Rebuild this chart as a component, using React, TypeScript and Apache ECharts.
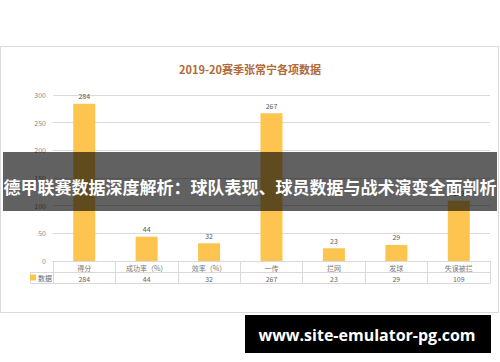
import React, { useEffect, useRef } from "react";
import * as echarts from "echarts";

const categories = ["得分", "成功率（%）", "效率（%）", "一传", "拦网", "发球", "失误被拦"];
const values = [284, 44, 32, 267, 23, 29, 109];
const seriesName = "数据";
const chartTitle = "2019-20赛季张常宁各项数据";
const bannerText = "德甲联赛数据深度解析：球队表现、球员数据与战术演变全面剖析";
const watermarkText = "www.site-emulator-pg.com";
const yTicks = { min: 0, max: 300, interval: 50 };

export default function App() {
  const ref = useRef<HTMLDivElement>(null);
  useEffect(() => {
    if (!ref.current) return;
    const chart = echarts.init(ref.current, null, { renderer: "svg" });
    const gridLeft = 53;
    const gridRight = 10;
    const gridTop = 95;
    const gridBottom = 101;
    const axisY = 362 - gridBottom;
    const lineColor = "#d9d9d9";
    const font = "'Noto Sans CJK SC', 'Noto Sans', sans-serif";
    chart.setOption({
      animation: false,
      backgroundColor: "#ffffff",
      title: {
        text: chartTitle,
        left: "center",
        top: 58,
        textStyle: { color: "#b06a38", fontSize: 11, fontWeight: "bold", fontFamily: font },
      },
      legend: {
        data: [seriesName],
        left: 30,
        top: axisY + 13,
        itemWidth: 6,
        itemHeight: 6,
        itemGap: 2,
        icon: "rect",
        textStyle: { color: "#666", fontSize: 7, fontFamily: font, padding: [0, 0, 0, -3] },
        padding: 0,
      },
      grid: { left: gridLeft, right: gridRight, top: gridTop, bottom: gridBottom },
      xAxis: [
        {
          type: "category",
          data: categories,
          position: "bottom",
          axisLine: { show: true, lineStyle: { color: lineColor } },
          axisTick: { show: true, length: 22, lineStyle: { color: lineColor } },
          axisLabel: { color: "#777", fontSize: 7, margin: 3, fontFamily: font, interval: 0 },
        },
        {
          type: "category",
          data: categories,
          position: "bottom",
          offset: 11,
          axisLine: { show: true, lineStyle: { color: lineColor } },
          axisTick: { show: false },
          axisLabel: {
            color: "#666",
            fontSize: 7,
            margin: 3,
            fontFamily: font,
            interval: 0,
            formatter: (_v: string, i: number) => String(values[i]),
          },
        },
        {
          type: "category",
          data: categories,
          position: "bottom",
          offset: 22,
          axisLine: { show: true, lineStyle: { color: lineColor } },
          axisTick: { show: false },
          axisLabel: { show: false },
        },
      ],
      yAxis: {
        type: "value",
        min: yTicks.min,
        max: yTicks.max,
        interval: yTicks.interval,
        axisLine: { show: false },
        axisTick: { show: false },
        splitLine: { lineStyle: { color: lineColor } },
        axisLabel: { color: "#888", fontSize: 7, margin: 7, fontFamily: font },
      },
      series: [
        {
          name: seriesName,
          type: "bar",
          data: values,
          barWidth: 22,
          itemStyle: { color: "#fdc54f" },
          label: {
            show: true,
            position: "top",
            distance: 4,
            color: "#595959",
            fontSize: 7,
            fontFamily: font,
          },
        },
      ],
      graphic: [
        {
          type: "rect",
          z: -10,
          silent: true,
          shape: { x: 0.5, y: 46.5, width: 498, height: 266 },
          style: { fill: "none", stroke: lineColor, lineWidth: 1 },
        },
        {
          type: "line",
          shape: { x1: 30, y1: axisY + 11.5, x2: gridLeft, y2: axisY + 11.5 },
          style: { stroke: lineColor, lineWidth: 1 },
        },
        {
          type: "line",
          shape: { x1: 30, y1: axisY + 22.5, x2: gridLeft, y2: axisY + 22.5 },
          style: { stroke: lineColor, lineWidth: 1 },
        },
        {
          type: "line",
          shape: { x1: 30.5, y1: axisY + 11, x2: 30.5, y2: axisY + 23 },
          style: { stroke: lineColor, lineWidth: 1 },
        },
        {
          type: "rect",
          z: 100,
          shape: { x: 3, y: 152, width: 494, height: 59 },
          style: { fill: "rgba(0,0,0,0.62)" },
        },
        {
          type: "text",
          z: 101,
          x: 250,
          y: 186,
          style: {
            text: bannerText,
            fill: "#ffffff",
            font: "bold 17px 'Noto Sans CJK SC', sans-serif",
            align: "center",
            verticalAlign: "middle",
          },
        },
        {
          type: "rect",
          z: 100,
          shape: { x: 245, y: 315, width: 246, height: 38 },
          style: { fill: "#000000" },
        },
        {
          type: "text",
          z: 101,
          x: 367,
          y: 335,
          style: {
            text: watermarkText,
            fill: "#ffffff",
            font: "bold 16px 'Open Sans', sans-serif",
            align: "center",
            verticalAlign: "middle",
          },
        },
      ],
    });
    return () => chart.dispose();
  }, []);
  return (
    <div
      ref={ref}
      style={{ position: "fixed", left: 0, top: 0, width: 500, height: 362 }}
    />
  );
}
